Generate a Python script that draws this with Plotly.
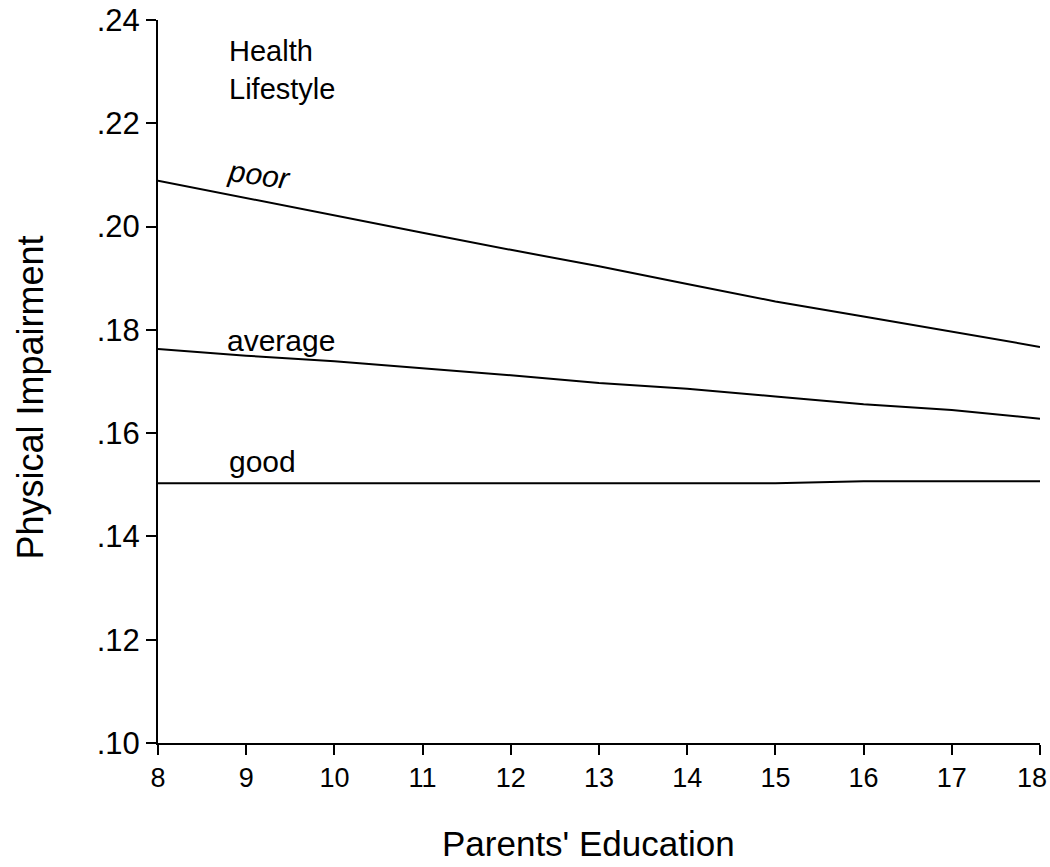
import plotly.graph_objects as go

education = [8, 9, 10, 11, 12, 13, 14, 15, 16, 17, 18]
x_tick_text = ["8", "9", "10", "11", "12", "13", "14", "15", "16", "17", "18"]
poor = [0.2089, 0.2055, 0.2022, 0.1988, 0.1955, 0.1923, 0.1889, 0.1855, 0.1826, 0.1797, 0.1767]
average = [0.1763, 0.1750, 0.1739, 0.1726, 0.1712, 0.1697, 0.1686, 0.1671, 0.1656, 0.1645, 0.1628]
good = [0.1503, 0.1503, 0.1503, 0.1503, 0.1503, 0.1503, 0.1503, 0.1503, 0.1507, 0.1507, 0.1507]

y_ticks = [0.10, 0.12, 0.14, 0.16, 0.18, 0.20, 0.22, 0.24]
y_tick_text = [".10", ".12", ".14", ".16", ".18", ".20", ".22", ".24"]

FONT = "Liberation Sans, Arial, sans-serif"

fig = go.Figure()
for name, vals in [("poor", poor), ("average", average), ("good", good)]:
    fig.add_trace(go.Scatter(x=education, y=vals, mode="lines", name=name,
                             line=dict(color="black", width=2), showlegend=False,
                             hoverinfo="skip"))

fig.add_annotation(x=8.78, y=0.2375, xref="x", yref="y", text="Health<br>Lifestyle",
                   showarrow=False, xanchor="left", yanchor="top", align="left",
                   font=dict(family=FONT, size=29, color="black"))
fig.add_annotation(x=8.74, y=0.2056, xref="x", yref="y", text="<i>poor</i>", textangle=8,
                   showarrow=False, xanchor="left", yanchor="bottom",
                   font=dict(family=FONT, size=30, color="black"))
fig.add_annotation(x=8.76, y=0.1743, xref="x", yref="y", text="average",
                   showarrow=False, xanchor="left", yanchor="bottom",
                   font=dict(family=FONT, size=30, color="black"))
fig.add_annotation(x=8.78, y=0.1510, xref="x", yref="y", text="good",
                   showarrow=False, xanchor="left", yanchor="bottom",
                   font=dict(family=FONT, size=30, color="black"))

# last x tick label nudged inside the page (as in the reference)
fig.add_annotation(x=education[-1], y=0, xref="x", yref="paper", text=x_tick_text[-1],
                   showarrow=False, xanchor="right", yanchor="middle",
                   xshift=9, yshift=-35,
                   font=dict(family=FONT, size=27, color="black"))

# axis titles
fig.add_annotation(x=0.5, y=0, xref="paper", yref="paper", text="Parents' Education",
                   showarrow=False, xanchor="center", yanchor="middle",
                   xshift=-11, yshift=-100,
                   font=dict(family=FONT, size=35, color="black"))
fig.add_annotation(x=0, y=0.5, xref="paper", yref="paper", text="Physical Impairment",
                   showarrow=False, xanchor="center", yanchor="middle", textangle=-90,
                   xshift=-128, yshift=-16,
                   font=dict(family=FONT, size=36, color="black"))

fig.update_layout(
    width=1050, height=867,
    margin=dict(l=158, r=10, t=20, b=124),
    paper_bgcolor="white", plot_bgcolor="white",
    hovermode=False,
    font=dict(family=FONT, color="black"),
    xaxis=dict(range=[8, 18], tickvals=education, ticktext=x_tick_text[:-1] + [""],
               ticks="outside", ticklen=10, tickwidth=2,
               tickcolor="black", showline=True, linecolor="black", linewidth=2,
               showgrid=False, zeroline=False, tickfont=dict(size=27),
               ticklabeloverflow="allow", automargin=False),
    yaxis=dict(range=[0.10, 0.24], tickvals=y_ticks, ticktext=y_tick_text, ticks="outside",
               ticklen=10, tickwidth=2, tickcolor="black", showline=True, linecolor="black",
               linewidth=2, showgrid=False, zeroline=False, tickfont=dict(size=31),
               ticklabeloverflow="allow", automargin=False),
)

fig.write_html("out.html", config={"displayModeBar": False},
               post_script="document.body.style.margin='0';")
